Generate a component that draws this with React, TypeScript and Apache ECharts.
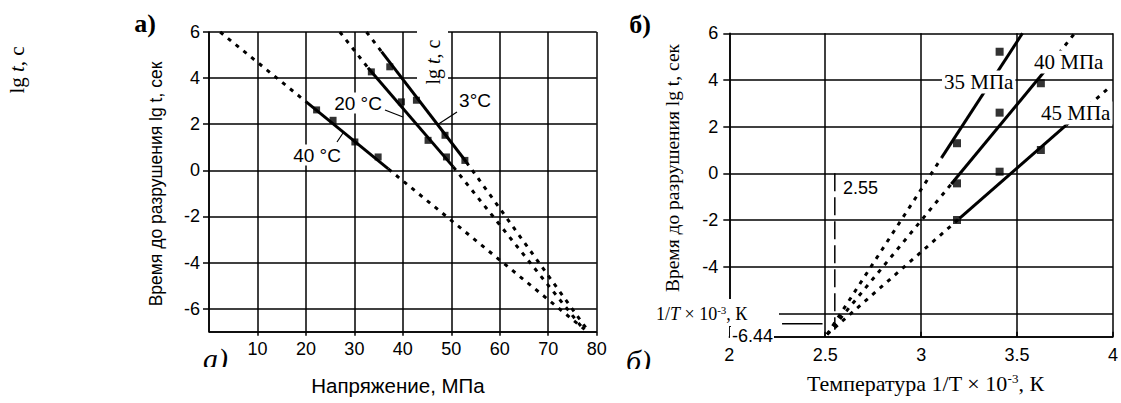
import React, { useEffect, useRef } from "react";
import * as echarts from "echarts";

// ---------- Panel а): lg t vs stress ----------
const temp40Pts = [[22.2, 2.62], [25.6, 2.17], [30.1, 1.23], [34.9, 0.58]];
const temp20Pts = [[33.5, 4.27], [39.7, 2.97], [45.2, 1.3], [49.0, 0.58]];
const temp3Pts = [[37.3, 4.49], [42.8, 3.04], [48.7, 1.52], [52.8, 0.43]];
// fitted lines: [dotted start, solid start, solid end, dotted end]
const temp40Fit = [[2.3, 6], [20.0, 2.98], [37.0, 0.06], [77.5, -6.9]];
const temp20Fit = [[27.0, 6], [32.8, 4.45], [50.4, 0.15], [77.3, -6.9]];
const temp3Fit = [[32.5, 6], [35.6, 5.15], [53.1, 0.36], [78.0, -6.9]];

// ---------- Panel б): lg t vs 1/T ----------
const p35Pts = [[3.187, 1.29], [3.409, 5.21]];
const p40Pts = [[3.187, -0.43], [3.409, 2.6], [3.624, 3.86]];
const p45Pts = [[3.187, -2.0], [3.409, 0.07], [3.624, 1.0]];
const p35Fit = [[2.51, -6.9], [3.106, 0.66], [3.528, 6.0], [3.528, 6.0]];
const p40Fit = [[2.51, -6.9], [3.157, -0.46], [3.653, 4.47], [3.8, 6.0]];
const p45Fit = [[2.51, -6.9], [3.2, -1.93], [3.756, 2.07], [3.97, 3.6]];
const line255 = [[2.55, 0], [2.55, -6.7]];
const level644 = [[2.275, -6.44], [2.486, -6.44]];

const SANS = "'Liberation Sans', Arial, sans-serif";
const SERIF = "'Liberation Serif', 'Times New Roman', serif";

function fitSeries(fit: number[][], gi: number) {
  const base = {
    type: "line",
    xAxisIndex: gi,
    yAxisIndex: gi,
    symbol: "none",
    silent: true,
    z: 3,
  };
  const dotted = { color: "#000", width: 3, type: [4, 6], cap: "butt" };
  return [
    { ...base, data: [fit[0], fit[1]], lineStyle: dotted },
    { ...base, data: [fit[2], fit[3]], lineStyle: dotted },
    { ...base, data: [fit[1], fit[2]], lineStyle: { color: "#000", width: 3, type: "solid" } },
  ];
}

function ptSeries(pts: number[][], gi: number, size: number) {
  return {
    type: "scatter",
    xAxisIndex: gi,
    yAxisIndex: gi,
    symbol: "rect",
    symbolSize: size,
    itemStyle: { color: "#000" },
    data: pts,
    z: 4,
  };
}

const axLine = { color: "#000", width: 1.5 };

export default function App() {
  const ref = useRef<HTMLDivElement>(null);
  useEffect(() => {
    if (!ref.current) return;
    const chart = echarts.init(ref.current, undefined, { renderer: "svg" });
    const txt = (x: number, y: number, text: string, font: string, extra: any = {}, style: any = {}) => ({
      type: "text",
      x,
      y,
      z: 100,
      ...extra,
      style: { text, font, fill: "#000", align: "center", verticalAlign: "middle", ...style },
    });
    const rect = (x: number, y: number, w: number, h: number, z = 90) => ({
      type: "rect",
      z,
      shape: { x, y, width: w, height: h },
      style: { fill: "#fff" },
    });
    const seg = (x1: number, y1: number, x2: number, y2: number) => ({
      type: "line",
      z: 100,
      shape: { x1, y1, x2, y2 },
      style: { stroke: "#000", lineWidth: 1.2 },
    });
    const labelBox = (x: number, y: number, text: string, font: string, align = "center") =>
      txt(x, y, text, font, {}, { align, backgroundColor: "#fff", padding: [1, 2, 1, 2] });

    const option: any = {
      animation: false,
      backgroundColor: "#fff",
      grid: [
        { left: 209, top: 32, right: 524.3, bottom: 71.3 },
        { left: 729.3, top: 33.3, right: 1.7, bottom: 66.3 },
      ],
      xAxis: [
        {
          gridIndex: 0,
          type: "value",
          min: 0,
          max: 80,
          interval: 10,
          axisLine: { show: true, onZero: false, lineStyle: axLine },
          axisTick: { show: true, length: 4, lineStyle: axLine },
          axisLabel: { showMinLabel: false, color: "#000", fontSize: 18, fontFamily: SANS, margin: 8 },
          splitLine: { show: true, lineStyle: axLine },
        },
        {
          gridIndex: 1,
          type: "value",
          min: 2,
          max: 4,
          interval: 0.5,
          axisLine: { show: true, onZero: false, lineStyle: axLine },
          axisTick: { show: true, inside: true, length: 5, lineStyle: axLine },
          axisLabel: { color: "#000", fontSize: 18, fontFamily: SANS, margin: 9 },
          splitLine: { show: true, lineStyle: axLine },
        },
      ],
      yAxis: [
        {
          gridIndex: 0,
          type: "value",
          min: -7,
          max: 6,
          splitNumber: 6,
          axisLine: { show: true, onZero: false, lineStyle: axLine },
          axisTick: { show: true, length: 6, lineStyle: axLine },
          axisLabel: { showMinLabel: false, color: "#000", fontSize: 18, fontFamily: SANS, margin: 9 },
          splitLine: { show: true, lineStyle: axLine },
        },
        {
          gridIndex: 1,
          type: "value",
          min: -7,
          max: 6,
          splitNumber: 6,
          axisLine: { show: true, onZero: false, lineStyle: axLine },
          axisTick: { show: true, length: 6, lineStyle: axLine },
          axisLabel: {
            showMinLabel: false,
            color: "#000",
            fontSize: 18,
            fontFamily: SANS,
            margin: 11,
            formatter: (v: number) => (v === -6 ? "" : String(v)),
          },
          splitLine: { show: true, lineStyle: axLine },
        },
      ],
      series: [
        ...fitSeries(temp40Fit, 0),
        ...fitSeries(temp20Fit, 0),
        ...fitSeries(temp3Fit, 0),
        ptSeries(temp40Pts, 0, 7),
        ptSeries(temp20Pts, 0, 7),
        ptSeries(temp3Pts, 0, 7),
        ...fitSeries(p35Fit, 1),
        ...fitSeries(p40Fit, 1),
        ...fitSeries(p45Fit, 1),
        ptSeries(p35Pts, 1, 8),
        ptSeries(p40Pts, 1, 8),
        ptSeries(p45Pts, 1, 8),
        {
          type: "line",
          xAxisIndex: 1,
          yAxisIndex: 1,
          symbol: "none",
          silent: true,
          data: line255,
          lineStyle: { color: "#000", width: 1.5, type: [18, 6] },
          z: 3,
        },
        {
          type: "line",
          xAxisIndex: 1,
          yAxisIndex: 1,
          symbol: "none",
          silent: true,
          data: level644,
          lineStyle: { color: "#000", width: 1.5, type: "solid" },
          z: 3,
        },
      ],
      graphic: {
        elements: [
          // panel letters
          txt(145, 23, "а)", `bold 26px ${SERIF}`),
          txt(640, 24, "б)", `bold 26px ${SERIF}`),
          // far-left lg t, c
          txt(17, 70, "", "", { rotation: Math.PI / 2 }, {
            text: "lg {i|t}, c",
            font: `21px ${SERIF}`,
            rich: { i: { fontStyle: "italic", fontFamily: SERIF, fontSize: 21 } },
          }),
          // left y axis name
          txt(156, 184, "Время до разрушения lg t, сек", `17.5px ${SANS}`, { rotation: Math.PI / 2 }),
          // left x axis name
          txt(398, 385, "Напряжение, МПа", `20.5px ${SANS}`),
          // right y axis name
          txt(672, 168, "Время до разрушения lg t, сек", `19.5px ${SERIF}`, { rotation: Math.PI / 2 }),
          // right x axis name
          txt(807, 383, "", "", {}, {
            align: "left",
            text: "Температура 1/T × 10{sup|-3}, К",
            font: `22px ${SERIF}`,
            rich: { sup: { fontSize: 13, fontFamily: SERIF, verticalAlign: "top", padding: [0, 0, 9, 0] } },
          }),
          // box with lg t, c inside left chart
          rect(417, 30, 31, 55),
          txt(433, 62, "", "", { rotation: Math.PI / 2 }, {
            text: "lg {i|t}, c",
            font: `20px ${SERIF}`,
            rich: { i: { fontStyle: "italic", fontFamily: SERIF, fontSize: 20 } },
          }),
          // temperature labels
          labelBox(317, 155, "40 °C", `19px ${SANS}`),
          labelBox(358, 103, "20 °C", `19px ${SANS}`),
          labelBox(475, 100, "3°C", `19px ${SANS}`),
          seg(337, 142, 343, 133),
          seg(385, 110, 403, 117),
          seg(457, 112, 437, 125),
          // pressure labels
          labelBox(942, 82, "35 МПа", `21px ${SERIF}`, "left"),
          labelBox(1032, 62, "40 МПа", `21px ${SERIF}`, "left"),
          labelBox(1039, 113, "45 МПа", `21px ${SERIF}`, "left"),
          // 2.55 label
          txt(843, 188, "2.55", `18px ${SANS}`, {}, { align: "left" }),
          // -6.44 label
          txt(774, 336, "-6.44", `18px ${SANS}`, { z: 130 }, { align: "right", backgroundColor: "#fff", padding: [0, 1, 0, 2] }),
          // 1/T x 10^-3, K box
          rect(650, 299, 129, 27, 110),
          txt(656, 314, "", "", { z: 120 }, {
            align: "left",
            text: "1/{i|T} × 10{sup|-3}, К",
            font: `18px ${SERIF}`,
            rich: {
              i: { fontStyle: "italic", fontFamily: SERIF, fontSize: 18 },
              sup: { fontSize: 11, fontFamily: SERIF, verticalAlign: "top", padding: [0, 0, 8, 0] },
            },
          }),
          // bottom italic panel marks (clipped)
          txt(203, 358, "а)", `italic 30px ${SERIF}`, { z: 80 }, { align: "left" }),
          txt(626, 360, "б)", `italic 30px ${SERIF}`, { z: 80 }, { align: "left" }),
          rect(195, 367, 50, 20, 85),
          rect(618, 369, 50, 20, 85),
        ],
      },
    };
    chart.setOption(option);
    return () => chart.dispose();
  }, []);
  return (
    <div
      ref={ref}
      style={{ position: "absolute", left: 0, top: 0, width: 1121, height: 403, background: "#fff" }}
    />
  );
}
